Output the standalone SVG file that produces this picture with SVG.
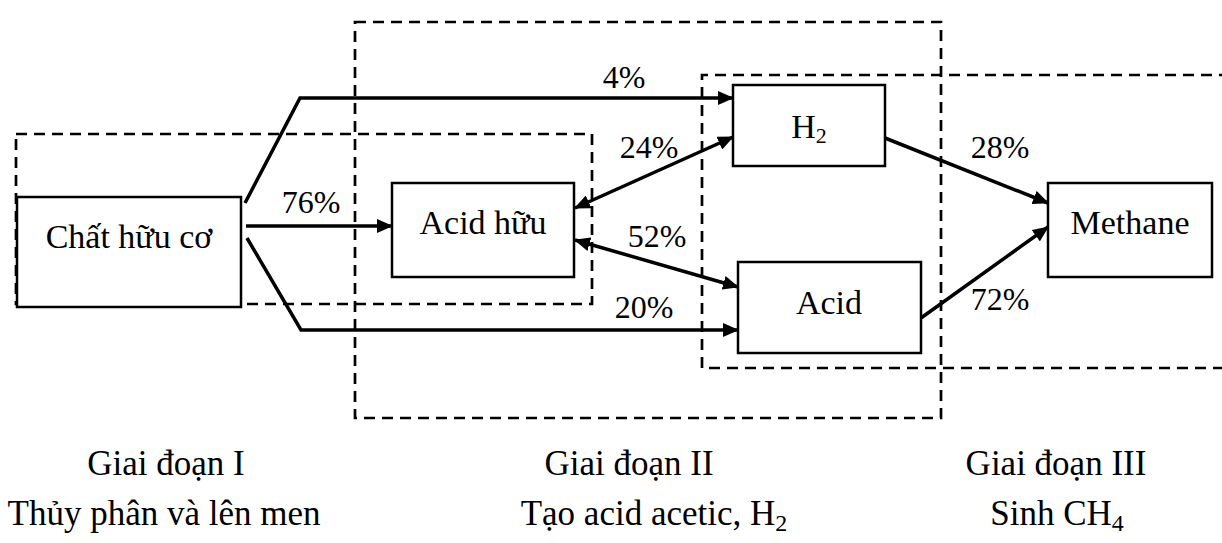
<svg xmlns="http://www.w3.org/2000/svg" width="1222" height="543" viewBox="0 0 1222 543">
<style>
text{font-family:"Liberation Serif","Times New Roman",serif;fill:#000}
.node{fill:#fff;stroke:#000;stroke-width:2.5}
.stage{fill:none;stroke:#000;stroke-width:2.7;stroke-dasharray:11 7}
.conn{fill:none;stroke:#000;stroke-width:3.5;stroke-linejoin:miter}
.lbl{font-size:32px;text-anchor:middle}
.ntxt{font-size:34px;text-anchor:middle}
.cap{font-size:35px;text-anchor:middle}
</style>
<defs>
<marker id="ah" markerUnits="userSpaceOnUse" markerWidth="16" markerHeight="14" refX="15" refY="7" orient="auto-start-reverse">
<path d="M0,0 L16,7 L0,14 z" fill="#000"/>
</marker>
</defs>
<rect width="1222" height="543" fill="#fff"/>
<g id="stages">
<rect class="stage" x="16" y="134" width="576" height="170"/>
<rect class="stage" x="355" y="22" width="586" height="396"/>
<path class="stage" d="M1230,75 H702 V368 H1230"/>
</g>
<g id="n-chat-huu-co">
<rect class="node" x="17" y="197" width="224" height="110"/>
<text class="ntxt" x="129" y="248">Chất hữu cơ</text>
</g>
<g id="n-acid-huu">
<rect class="node" x="392" y="183" width="182" height="94"/>
<text class="ntxt" x="483" y="234">Acid hữu</text>
</g>
<g id="n-h2">
<rect class="node" x="733" y="85" width="152" height="81"/>
<text class="ntxt" x="809" y="138">H<tspan font-size="22" dy="5">2</tspan></text>
</g>
<g id="n-acid">
<rect class="node" x="738" y="262" width="183" height="91"/>
<text class="ntxt" x="829" y="314">Acid</text>
</g>
<g id="n-methane">
<rect class="node" x="1048" y="183" width="164" height="94"/>
<text class="ntxt" x="1130" y="234">Methane</text>
</g>
<g id="connectors">
<path class="conn" d="M245,203 L300,98 H733" marker-end="url(#ah)"/>
<path class="conn" d="M246,226 H392" marker-end="url(#ah)"/>
<path class="conn" d="M247,238 L301,330 H738" marker-end="url(#ah)"/>
<path class="conn" d="M575,208 L733,137" marker-start="url(#ah)" marker-end="url(#ah)"/>
<path class="conn" d="M575,240 L738,287" marker-start="url(#ah)" marker-end="url(#ah)"/>
<path class="conn" d="M885,138 L1048,203" marker-end="url(#ah)"/>
<path class="conn" d="M921,318 L1048,227" marker-end="url(#ah)"/>
</g>
<g id="labels">
<text class="lbl" x="624" y="88">4%</text>
<text class="lbl" x="311" y="213">76%</text>
<text class="lbl" x="649" y="158">24%</text>
<text class="lbl" x="657" y="247">52%</text>
<text class="lbl" x="644" y="318">20%</text>
<text class="lbl" x="1000" y="158">28%</text>
<text class="lbl" x="1000" y="310">72%</text>
</g>
<g id="captions">
<text class="cap" x="166" y="475">Giai đoạn I</text>
<text class="cap" x="164" y="525">Thủy phân và lên men</text>
<text class="cap" x="629" y="475">Giai đoạn II</text>
<text class="cap" x="654" y="525">Tạo acid acetic, H<tspan font-size="24" dy="6">2</tspan></text>
<text class="cap" x="1056" y="475">Giai đoạn III</text>
<text class="cap" x="1057" y="525">Sinh CH<tspan font-size="24" dy="6">4</tspan></text>
</g>
</svg>
